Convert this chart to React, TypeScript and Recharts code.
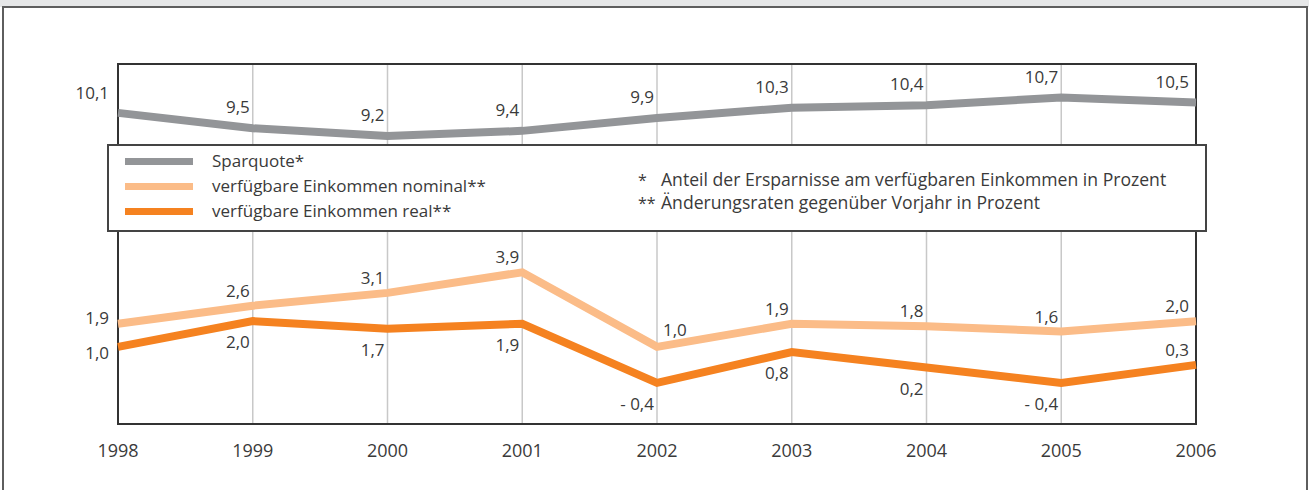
import React from 'react';
import { LineChart, Line, XAxis, YAxis, CartesianGrid, ReferenceArea } from 'recharts';

const years = [1998, 1999, 2000, 2001, 2002, 2003, 2004, 2005, 2006];
const sparquote = [10.1, 9.5, 9.2, 9.4, 9.9, 10.3, 10.4, 10.7, 10.5];
const nominal = [1.9, 2.6, 3.1, 3.9, 1.0, 1.9, 1.8, 1.6, 2.0];
const real = [1.0, 2.0, 1.7, 1.9, -0.4, 0.8, 0.2, -0.4, 0.3];
const seriesNames = ['Sparquote*', 'verfügbare Einkommen nominal**', 'verfügbare Einkommen real**'];
const footnoteMarks = ['*', '**'];
const footnoteTexts = ['Anteil der Ersparnisse am verfügbaren Einkommen in Prozent', 'Änderungsraten gegenüber Vorjahr in Prozent'];
const gridValues = [0, 4, 10];
const yDomain = [-2, 12];

const COLORS = ['#939598', '#fbbc88', '#f58220'];
const TEXT = '#3a3a3a';
const FONT = "'Open Sans', sans-serif";

const data = years.map((y, i) => ({ year: y, spar: sparquote[i], nom: nominal[i], real: real[i] }));

const fmt = (v: number) => (v < 0 ? '- ' + Math.abs(v).toFixed(1).replace('.', ',') : v.toFixed(1).replace('.', ','));

const makeLabel = (kind: 'spar' | 'nom' | 'real') => (props: any) => {
  const { x, y, value, index } = props;
  const last = years.length - 1;
  let dx = -3;
  let anchor = 'end';
  let dyc = 0;
  if (kind === 'spar') dyc = -21;
  if (kind === 'nom') {
    dyc = -15;
    if (index === 4) { anchor = 'start'; dx = 6; dyc = -17; }
  }
  if (kind === 'real') {
    dyc = 21;
    if (index === last) dyc = -15;
  }
  if (index === 0) {
    dx = -9;
    if (kind === 'spar') dyc = -20;
    if (kind === 'nom') dyc = -6;
    if (kind === 'real') dyc = 6;
  }
  if (index === last) dx = -7;
  const fs = 17;
  return (
    <text x={x + dx} y={y + dyc + fs * 0.36} textAnchor={anchor} fontSize={fs} fill={TEXT} fontFamily={FONT}>
      {fmt(value)}
    </text>
  );
};

export default function App() {
  return (
    <div style={{ position: 'absolute', left: 0, top: 0, width: 1309, height: 490, overflow: 'hidden', background: '#fff', fontFamily: FONT }}>
      <div style={{ position: 'absolute', left: 0, top: 0, width: 1309, height: 7, background: '#e6e7e8' }} />
      <div style={{ position: 'absolute', left: 2, top: 6, width: 1306, height: 520, boxSizing: 'border-box', borderTop: '2px solid #5e5e5e', borderLeft: '2px solid #5e5e5e', borderRight: '2px solid #5e5e5e' }} />
      <div style={{ position: 'absolute', left: 0, top: 0 }}>
        <LineChart width={1309} height={490} data={data} margin={{ top: 64, left: 118, right: 113, bottom: 36 }}>
          <CartesianGrid stroke="#c8c8c8" strokeWidth={1.5} />
          <XAxis
            dataKey="year"
            type="number"
            domain={[years[0], years[years.length - 1]]}
            ticks={years}
            allowDecimals={false}
            height={30}
            axisLine={{ stroke: '#333', strokeWidth: 2 }}
            tickLine={false}
            tickMargin={14}
            tick={{ fontSize: 18, fill: TEXT, fontFamily: FONT }}
          />
          <YAxis domain={yDomain} ticks={gridValues} width={0} tick={false} tickLine={false} axisLine={false} />
          <ReferenceArea x1={years[0]} x2={years[years.length - 1]} y1={yDomain[0]} y2={yDomain[1]} stroke="#333" strokeWidth={2} fill="none" fillOpacity={0} />
          <Line dataKey="spar" stroke={COLORS[0]} strokeWidth={8} dot={false} isAnimationActive={false} label={makeLabel('spar')} />
          <Line dataKey="nom" stroke={COLORS[1]} strokeWidth={8} dot={false} isAnimationActive={false} label={makeLabel('nom')} />
          <Line dataKey="real" stroke={COLORS[2]} strokeWidth={8} dot={false} isAnimationActive={false} label={makeLabel('real')} />
        </LineChart>
      </div>
      <svg style={{ position: 'absolute', left: 0, top: 0 }} width={1309} height={490}>
        <rect x={108} y={145} width={1098} height={86} fill="#fff" stroke="#444" strokeWidth={2} />
        {seriesNames.map((name, i) => (
          <g key={name}>
            <rect x={125} y={158 + i * 25} width={68} height={7} fill={COLORS[i]} />
            <text x={212} y={167 + i * 25} fontSize={17} fill={TEXT} fontFamily={FONT}>{name}</text>
          </g>
        ))}
        {footnoteTexts.map((t, i) => (
          <g key={t}>
            <text x={638} y={186 + i * 23} fontSize={16} fill={TEXT} fontFamily={FONT}>{footnoteMarks[i]}</text>
            <text x={661} y={186 + i * 23} fontSize={17.6} fill={TEXT} fontFamily={FONT}>{t}</text>
          </g>
        ))}
      </svg>
    </div>
  );
}
